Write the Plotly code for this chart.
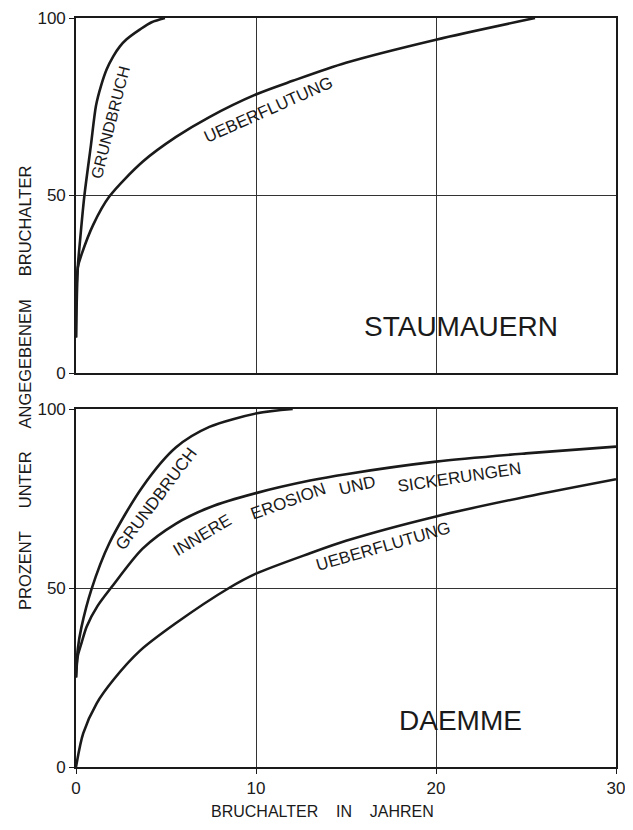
import plotly.graph_objects as go

# ---- data ----
# STAUMAUERN (top panel)
st_grund_x = [0, 0.1, 0.22, 0.46, 0.83, 1.11, 1.39, 1.7, 2.07, 2.44, 2.81, 3.56, 4.2, 4.94]
st_grund_y = [10, 29.7, 37, 49.7, 64.2, 75.3, 80.9, 85.5, 89.2, 92, 94, 96.8, 98.8, 100]
st_ueber_x = [0, 0.1, 0.31, 0.96, 1.85, 3.7, 5.56, 7.41, 10.06, 12.04, 15, 20, 25.5]
st_ueber_y = [10, 29.7, 33.4, 41.8, 49.7, 59.5, 66.5, 72.1, 78.6, 82.3, 87.4, 93.9, 100]

# DAEMME (bottom panel)
da_grund_x = [0, 0.1, 0.3, 0.85, 1.85, 3.7, 5.56, 7.41, 10.06, 12.04]
da_grund_y = [25, 33, 39, 49.5, 62.5, 78.3, 89.3, 95, 98.8, 100]
da_innere_x = [0, 0.1, 0.3, 0.59, 1.2, 2.0, 3.7, 5.56, 7.41, 10, 13, 15, 20, 25, 30]
da_innere_y = [25, 31, 34.5, 39.2, 45, 50.4, 61, 68, 72.5, 76.5, 80, 81.8, 85.3, 87.6, 89.5]
da_ueber_x = [0, 0.4, 1.15, 2.07, 3.56, 5.5, 8.5, 10, 13, 15, 20, 25, 30]
da_ueber_y = [0, 9.4, 17.8, 24.3, 32.5, 40, 50, 54, 59.7, 63.2, 70, 75.5, 80.4]

x_ticks = [0, 10, 20, 30]
y_ticks = [0, 50, 100]

FONT = "Liberation Sans"
INK = "#1a1a1a"

fig = go.Figure()
line = dict(color=INK, width=2.6, shape="spline", smoothing=0.8)

fig.add_trace(go.Scatter(x=st_grund_x, y=st_grund_y, mode="lines", line=line, xaxis="x", yaxis="y"))
fig.add_trace(go.Scatter(x=st_ueber_x, y=st_ueber_y, mode="lines", line=line, xaxis="x", yaxis="y"))
fig.add_trace(go.Scatter(x=da_grund_x, y=da_grund_y, mode="lines", line=line, xaxis="x2", yaxis="y2"))
fig.add_trace(go.Scatter(x=da_innere_x, y=da_innere_y, mode="lines", line=line, xaxis="x2", yaxis="y2"))
fig.add_trace(go.Scatter(x=da_ueber_x, y=da_ueber_y, mode="lines", line=line, xaxis="x2", yaxis="y2"))

axis_common = dict(
    showline=True, mirror=True, linecolor=INK, linewidth=1.6,
    showgrid=True, gridcolor="#333333", gridwidth=1,
    zeroline=False, automargin=False, ticklabeloverflow="allow",
    tickfont=dict(family=FONT, size=17, color=INK),
    tickcolor=INK, ticklen=5, tickwidth=1.2,
)

PLOT_H = 749.0
top_dom = [(767 - 373) / PLOT_H, 1.0]
bot_dom = [0.0, (767 - 409) / PLOT_H]

# page body adds an 8px offset, so the figure is slightly smaller
fig.update_layout(
    width=625, height=822,
    margin=dict(l=68, r=17, t=10, b=63),
    paper_bgcolor="white", plot_bgcolor="white",
    showlegend=False,
    font=dict(family=FONT, color=INK),
    xaxis=dict(axis_common, range=[0, 30], tickvals=x_ticks, showticklabels=False,
               ticks="", anchor="y", domain=[0, 1]),
    yaxis=dict(axis_common, range=[0, 100], tickvals=y_ticks, ticks="outside",
               anchor="x", domain=top_dom),
    xaxis2=dict(axis_common, range=[0, 30], tickvals=x_ticks, ticks="outside",
                anchor="y2", domain=[0, 1]),
    yaxis2=dict(axis_common, range=[0, 100], tickvals=y_ticks, ticks="outside",
                anchor="x2", domain=bot_dom),
)

def lab(text, x, y, ang, xref, yref, size=17):
    fig.add_annotation(text=text, x=x, y=y, xref=xref, yref=yref, textangle=ang,
                       showarrow=False, xanchor="center", yanchor="middle",
                       font=dict(family=FONT, size=size, color=INK))

# curve labels - top
lab("GRUNDBRUCH", 1.89, 70.7, -75.6, "x", "y", 16)
lab("UEBERFLUTUNG", 10.72, 74.2, -24, "x", "y")
lab("STAUMAUERN", 21.4, 13.1, 0, "x", "y", 28)
# curve labels - bottom
lab("GRUNDBRUCH", 4.48, 74.9, -53, "x2", "y2")
lab("INNERE", 6.98, 64.8, -31, "x2", "y2")
lab("EROSION", 11.75, 74.2, -20, "x2", "y2")
lab("UND", 15.64, 78.5, -13, "x2", "y2")
lab("SICKERUNGEN", 21.28, 80.9, -8.5, "x2", "y2")
lab("UEBERFLUTUNG", 17.07, 61.5, -16, "x2", "y2")
lab("DAEMME", 21.36, 13.1, 0, "x2", "y2", 28)

# axis titles
sp5 = "\u00a0" * 5
sp4 = "\u00a0" * 4
fig.add_annotation(text="PROZENT" + sp5 + "UNTER" + sp5 + "ANGEGEBENEM" + sp5 + "BRUCHALTER",
                   x=(25 - 76) / 540, y=(767 - 388) / PLOT_H, xref="paper", yref="paper",
                   textangle=-90, showarrow=False, xanchor="center", yanchor="middle",
                   font=dict(family=FONT, size=16.5, color=INK))
fig.add_annotation(text="BRUCHALTER" + sp4 + "IN" + sp4 + "JAHREN",
                   x=(322.5 - 76) / 540, y=0, yshift=-(811 - 767), xref="paper", yref="paper",
                   showarrow=False, xanchor="center", yanchor="middle",
                   font=dict(family=FONT, size=16, color=INK))

fig.write_html("out.html")
